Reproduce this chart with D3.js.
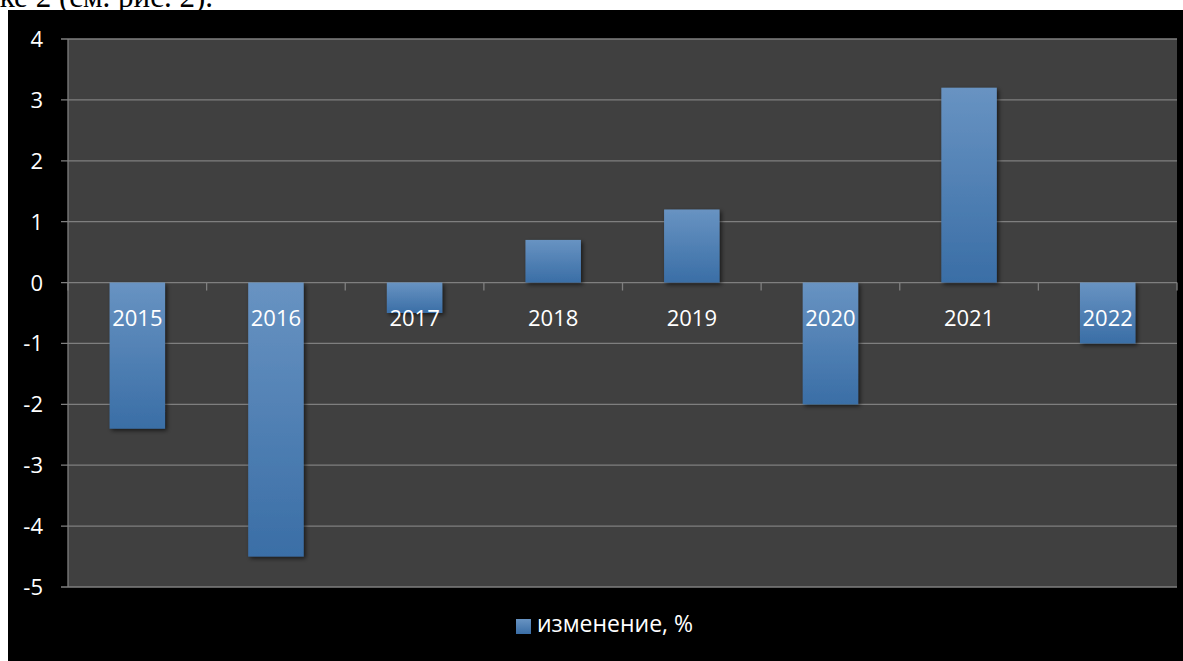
<!DOCTYPE html>
<html><head><meta charset="utf-8">
<script src="https://cdn.jsdelivr.net/npm/d3@7"></script>
<style>html,body{margin:0;padding:0;background:#fff;overflow:hidden}</style>
</head><body>
<svg id="c" width="1183" height="661"></svg>
<script>
const categories = ["2015","2016","2017","2018","2019","2020","2021","2022"];
const values = [-2.4, -4.5, -0.5, 0.7, 1.2, -2.0, 3.2, -1.0];
const yTicks = [4,3,2,1,0,-1,-2,-3,-4,-5];
const seriesName = "изменение, %";

const svg = d3.select("#c");
const W = 1183, H = 661;
const plot = {x0: 68, x1: 1177, y0: 39, y1: 587};
const font = "'Open Sans', sans-serif";

// text above the chart (partly hidden behind the chart, as in the source page)
svg.append("text").attr("x", 213).attr("y", 7).attr("text-anchor","end")
  .attr("font-family","'Liberation Serif', 'Times New Roman', serif").attr("font-size", 31)
  .attr("fill","#000").text("ке 2 (см. рис. 2).");

// black chart area
svg.append("rect").attr("x", 8).attr("y", 10).attr("width", W - 8).attr("height", H - 10).attr("fill", "#000");

const defs = svg.append("defs");
const grad = defs.append("linearGradient").attr("id","barGrad").attr("x1",0).attr("y1",0).attr("x2",0).attr("y2",1);
grad.append("stop").attr("offset","0%").attr("stop-color","#6893c2");
grad.append("stop").attr("offset","100%").attr("stop-color","#3a6ea6");
const f = defs.append("filter").attr("id","shadow").attr("x","-20%").attr("y","-20%").attr("width","140%").attr("height","140%");
f.append("feDropShadow").attr("dx",2).attr("dy",2).attr("stdDeviation",2).attr("flood-color","#000").attr("flood-opacity",0.6);

// plot background
svg.append("rect").attr("x", plot.x0).attr("y", plot.y0).attr("width", plot.x1 - plot.x0).attr("height", plot.y1 - plot.y0).attr("fill", "#404040");

const y = d3.scaleLinear().domain([-5, 4]).range([plot.y1, plot.y0]);
const x = d3.scaleBand().domain(categories).range([plot.x0, plot.x1]).paddingInner(0.6).paddingOuter(0.3);
const xb = d3.scaleBand().domain(categories).range([plot.x0, plot.x1]);

// gridlines
svg.append("g").selectAll("line").data(yTicks).join("line")
  .attr("x1", plot.x0 - 7).attr("x2", plot.x1)
  .attr("y1", d => y(d)).attr("y2", d => y(d))
  .attr("stroke", "#7f7f7f").attr("stroke-width", 1.3);

// y axis line
svg.append("line").attr("x1", plot.x0).attr("x2", plot.x0).attr("y1", plot.y0).attr("y2", plot.y1)
  .attr("stroke", "#7f7f7f").attr("stroke-width", 1.3);

// y labels
svg.append("g").selectAll("text").data(yTicks).join("text")
  .attr("x", 43).attr("y", d => y(d) + 8).attr("text-anchor","end")
  .attr("font-family", font).attr("font-size", 22).attr("fill", "#fff")
  .text(d => d);

// category ticks on zero line
const bounds = categories.map(c => xb(c)).concat([plot.x1]);
svg.append("g").selectAll("line").data(bounds).join("line")
  .attr("x1", d => d).attr("x2", d => d).attr("y1", y(0)).attr("y2", y(0) + 8)
  .attr("stroke", "#7f7f7f").attr("stroke-width", 1.3);

// bars
svg.append("g").selectAll("rect").data(values).join("rect")
  .attr("x", (d, i) => x(categories[i]))
  .attr("width", x.bandwidth())
  .attr("y", d => y(Math.max(0, d)))
  .attr("height", d => Math.abs(y(d) - y(0)))
  .attr("fill", "url(#barGrad)")
  .attr("filter", "url(#shadow)");

// category labels
svg.append("g").selectAll("text").data(categories).join("text")
  .attr("x", c => xb(c) + xb.bandwidth() / 2).attr("y", y(0) + 43)
  .attr("text-anchor","middle")
  .attr("font-family", font).attr("font-size", 22).attr("fill", "#fff")
  .text(c => c);

// legend
const lg = svg.append("g");
lg.append("rect").attr("x", 516).attr("y", 619).attr("width", 15).attr("height", 15).attr("fill", "url(#barGrad)");
lg.append("text").attr("x", 537).attr("y", 632)
  .attr("font-family", font).attr("font-size", 23).attr("fill", "#fff").text(seriesName);
</script>
</body></html>
